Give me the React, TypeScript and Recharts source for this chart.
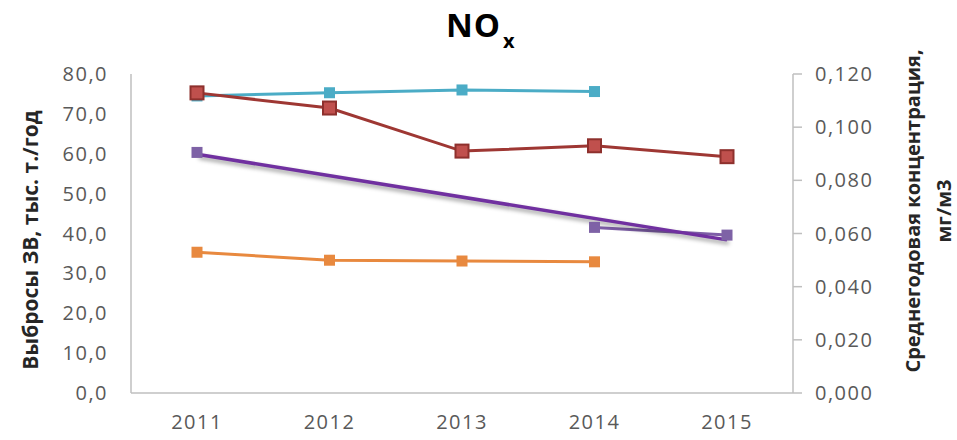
import { LineChart, Line, XAxis, YAxis } from 'recharts'

const years = ['2011', '2012', '2013', '2014', '2015']

// выбросы, тыс. т/год — левая ось
const emissionsCyan = [74.5, 75.3, 76.0, 75.6, null]
const emissionsOrange = [35.3, 33.3, 33.1, 32.9, null]

// среднегодовая концентрация, мг/м3 — правая ось
const concRed = [0.1129, 0.1072, 0.091, 0.093, 0.0889]
const concPurple = [0.0905, null, null, 0.0623, 0.0594]
const concPurpleTrend = [0.0898, null, null, null, 0.0576]

const leftTicks = [0, 10, 20, 30, 40, 50, 60, 70, 80]
const rightTicks = [0, 0.02, 0.04, 0.06, 0.08, 0.1, 0.12]

const data = years.map((year, i) => ({
  year,
  cyan: emissionsCyan[i],
  orange: emissionsOrange[i],
  red: concRed[i],
  purple: concPurple[i],
  trend: concPurpleTrend[i],
}))

const font = '"Open Sans", sans-serif'
const tickStyle = { fill: '#595959', fontSize: 20, fontFamily: font, letterSpacing: 1.5 }

function square(size: number, fill: string, stroke?: string) {
  return (props: any) => {
    const { cx, cy, index } = props
    if (cx == null || cy == null) return <g key={`n-${index}`} />
    return (
      <rect
        key={`d-${index}`}
        x={cx - size / 2}
        y={cy - size / 2}
        width={size}
        height={size}
        fill={fill}
        stroke={stroke ?? 'none'}
        strokeWidth={stroke ? 2 : 0}
      />
    )
  }
}

function AxisTitle({ lines, px, py, size }: { lines: string[]; px: number; py: number; size: number }) {
  return (
    <g>
      {lines.map((t, i) => (
        <text
          key={i}
          transform={`translate(${px + i * 31},${py}) rotate(-90)`}
          textAnchor="middle"
          dominantBaseline="central"
          fontFamily={font}
          fontWeight={700}
          fontSize={size}
          fill="#262626"
        >
          {t}
        </text>
      ))}
    </g>
  )
}

export default function App() {
  return (
    <div style={{ position: 'relative', width: 957, height: 440, background: '#fff' }}>
      <style>{'body{margin:0} .trend path{filter:drop-shadow(2px 3px 2px rgba(0,0,0,0.4))}'}</style>
      <div
        style={{
          position: 'absolute',
          left: 446,
          top: 8,
          fontFamily: font,
          fontWeight: 700,
          fontSize: 33,
          lineHeight: '33px',
          color: '#000',
          letterSpacing: 1,
        }}
      >
        NO<span style={{ fontSize: 20, verticalAlign: '-11px', marginLeft: 2 }}>x</span>
      </div>
      <LineChart width={957} height={440} data={data} margin={{ top: 74, right: 0, bottom: 0, left: 0 }}>
        <XAxis
          dataKey="year"
          height={47}
          padding={{ left: 66, right: 66 }}
          axisLine={{ stroke: '#BFBFBF', strokeWidth: 1.5 }}
          tickLine={false}
          tickSize={0}
          tickMargin={22}
          tick={tickStyle}
        />
        <YAxis
          yAxisId="left"
          width={131}
          domain={[0, 80]}
          ticks={leftTicks}
          interval={0}
          tickFormatter={(v: number) => v.toFixed(1).replace('.', ',')}
          axisLine={{ stroke: '#BFBFBF', strokeWidth: 1.5 }}
          tickLine={false}
          tickSize={0}
          tickMargin={23}
          tick={tickStyle}
          label={<AxisTitle lines={['Выбросы ЗВ, тыс. т./год']} px={30} py={240} size={21} />}
        />
        <YAxis
          yAxisId="right"
          orientation="right"
          width={164}
          domain={[0, 0.12]}
          ticks={rightTicks}
          interval={0}
          tickFormatter={(v: number) => v.toFixed(3).replace('.', ',')}
          axisLine={{ stroke: '#BFBFBF', strokeWidth: 1.5 }}
          tickLine={{ stroke: '#BFBFBF', strokeWidth: 1.5 }}
          tickSize={9}
          tickMargin={13}
          tick={tickStyle}
          label={<AxisTitle lines={['Среднегодовая концентрация,', 'мг/м3']} px={912} py={211} size={20} />}
        />
        <Line
          yAxisId="left"
          dataKey="cyan"
          stroke="#4BACC6"
          strokeWidth={3}
          dot={square(11, '#4BACC6')}
          isAnimationActive={false}
        />
        <Line
          yAxisId="left"
          dataKey="orange"
          stroke="#E8893F"
          strokeWidth={3}
          dot={square(11, '#E8893F')}
          isAnimationActive={false}
        />
        <Line
          yAxisId="right"
          dataKey="purple"
          stroke="#7F5FA8"
          strokeWidth={3}
          dot={square(11, '#7E62A6')}
          isAnimationActive={false}
        />
        <Line
          yAxisId="right"
          dataKey="red"
          stroke="#9E3733"
          strokeWidth={3}
          dot={square(13, '#C0504D', '#8E302D')}
          isAnimationActive={false}
        />
        <Line
          yAxisId="right"
          dataKey="trend"
          className="trend"
          stroke="#7030A0"
          strokeWidth={3.5}
          connectNulls
          dot={false}
          isAnimationActive={false}
        />
      </LineChart>
    </div>
  )
}
